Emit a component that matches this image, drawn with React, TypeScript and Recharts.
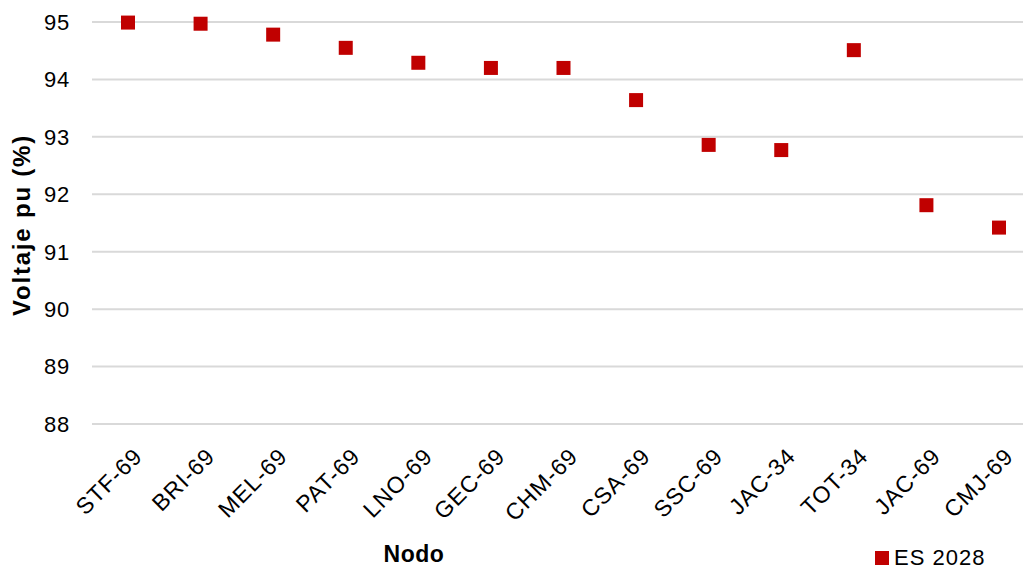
import React from 'react';
import { ComposedChart, Line, XAxis, YAxis, CartesianGrid, Legend, Label } from 'recharts';

const nodes = ['STF-69', 'BRI-69', 'MEL-69', 'PAT-69', 'LNO-69', 'GEC-69', 'CHM-69', 'CSA-69', 'SSC-69', 'JAC-34', 'TOT-34', 'JAC-69', 'CMJ-69'];
const es2028 = [94.99, 94.97, 94.78, 94.55, 94.29, 94.2, 94.2, 93.64, 92.86, 92.77, 94.51, 91.81, 91.42];
const yTicks = [88, 89, 90, 91, 92, 93, 94, 95];
const seriesName = 'ES 2028';

const data = nodes.map((n, i) => ({ node: n, v: es2028[i] }));

const RED = '#C00000';
const FONT = 'Liberation Sans, Arial, sans-serif';

const SquareShape = (props: any) => {
  const { cx, cy, index } = props;
  if (cx == null || cy == null) return null;
  return <rect key={`sq-${index}`} x={cx - 7} y={cy - 7} width={14} height={14} fill={RED} />;
};

const XTick = (props: any) => {
  const { x, payload } = props;
  const px = x + 4;
  const py = 446;
  return (
    <text x={px} y={py} dy="0.72em" textAnchor="end" transform={`rotate(-45, ${px}, ${py})`} fontSize={23} letterSpacing={1} fill="#000" fontFamily={FONT}>
      {payload.value}
    </text>
  );
};

const YTick = (props: any) => {
  const { y, payload } = props;
  return (
    <text x={70} y={y} dy="0.36em" textAnchor="end" fontSize={22} letterSpacing={0.8} fill="#000" fontFamily={FONT}>
      {payload.value}
    </text>
  );
};

const LegendContent = () => (
  <div style={{ display: 'flex', alignItems: 'center', fontFamily: FONT, fontSize: 22, letterSpacing: 1, color: '#000' }}>
    <span style={{ display: 'inline-block', width: 14, height: 14, background: RED, marginRight: 5 }} />
    <span>{seriesName}</span>
  </div>
);

export default function App() {
  return (
    <div style={{ position: 'absolute', left: 0, top: 0, width: 1023, height: 570, overflow: 'hidden', background: '#fff' }}>
      <ComposedChart width={1045} height={570} data={data} margin={{ top: 22, right: 10, bottom: 46, left: 0 }}>
        <CartesianGrid horizontal={true} vertical={false} stroke="#d9d9d9" strokeWidth={2} />
        <XAxis
          dataKey="node"
          type="category"
          axisLine={false}
          tickLine={false}
          interval={0}
          height={100}
          padding={{ left: 36, right: 36 }}
          tick={<XTick />}
        >
          <Label
            content={() => (
              <text x={414} y={562} textAnchor="middle" fontSize={23} letterSpacing={0.5} fontWeight="bold" fontFamily={FONT} fill="#000">
                Nodo
              </text>
            )}
          />
        </XAxis>
        <YAxis
          type="number"
          domain={[88, 95]}
          ticks={yTicks}
          axisLine={false}
          tickLine={false}
          tickSize={0}
          width={92}
          tick={<YTick />}
        >
          <Label
            content={() => (
              <text x={30} y={225} textAnchor="middle" transform="rotate(-90, 30, 225)" fontSize={24} letterSpacing={1.8} fontWeight="bold" fontFamily={FONT} fill="#000">
                Voltaje pu (%)
              </text>
            )}
          />
        </YAxis>
        <Legend
          verticalAlign="middle"
          align="center"
          layout="horizontal"
          content={<LegendContent />}
          wrapperStyle={{ position: 'absolute', left: 875, top: 545, width: 140 }}
        />
        <Line
          name={seriesName}
          dataKey="v"
          stroke="none"
          strokeWidth={0}
          dot={<SquareShape />}
          activeDot={false}
          isAnimationActive={false}
        />
      </ComposedChart>
    </div>
  );
}
